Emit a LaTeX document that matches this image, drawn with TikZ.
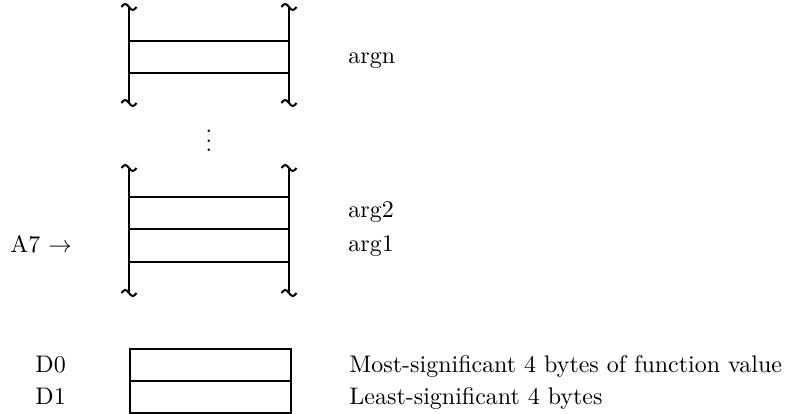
\documentclass[tikz,border=0pt]{standalone}
\begin{document}
\begin{tikzpicture}[x=0.4255pt,y=-0.4255pt,
  cell/.style={line width=0.85pt},
  lab/.style={anchor=base west,inner sep=0pt,font=\fontsize{10.2}{12}\selectfont},
  brk/.pic={\draw[line width=0.85pt] (-7.5,0) sin (-3.75,-3) cos (0,0) sin (3.75,3) cos (7.5,0);}]
\useasboundingbox (0,0) rectangle (792,414);
% top stack
\draw[cell] (129,7) -- (129,103) (289,7) -- (289,103);
\draw[cell] (129,41) -- (289,41) (129,73) -- (289,73);
\pic at (129,7) {brk}; \pic at (289,7) {brk};
\pic at (129,103) {brk}; \pic at (289,103) {brk};
\node[lab] (argn) at (348,64) {argn};
% dots
\node[inner sep=0pt] (dots) at (209,134) {$\vdots$};
% second stack
\draw[cell] (129,168) -- (129,293) (289,168) -- (289,293);
\draw[cell] (129,197) -- (289,197) (129,229) -- (289,229) (129,262) -- (289,262);
\pic at (129,168) {brk}; \pic at (289,168) {brk};
\pic at (129,293) {brk}; \pic at (289,293) {brk};
\node[lab] (arg2) at (348,218) {arg2};
\node[lab] (arg1) at (348,252) {arg1};
\node[lab] (a7) at (10,253) {A7 $\rightarrow$};
% registers
\draw[cell] (130,349) rectangle (291,413);
\draw[cell] (130,381) -- (291,381);
\node[lab] (d0) at (35,372) {D0};
\node[lab] (d1) at (35,404) {D1};
\node[lab] (msb) at (349,372) {Most-significant 4 bytes of function value};
\node[lab] (lsb) at (349,404) {Least-significant 4 bytes};
\end{tikzpicture}
\end{document}
